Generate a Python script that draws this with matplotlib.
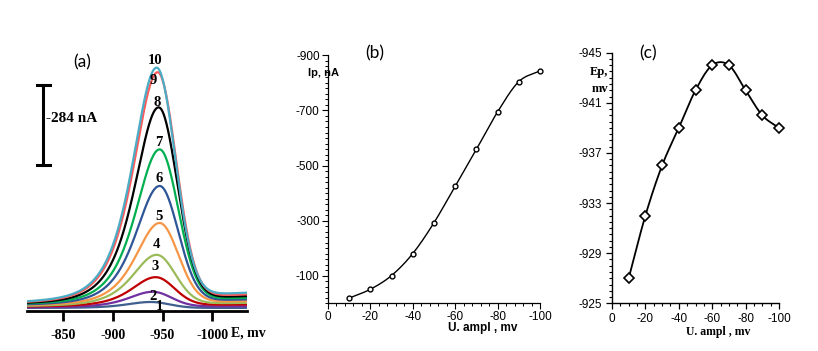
import numpy as np
import matplotlib
matplotlib.use("Agg")
import matplotlib.pyplot as plt
from matplotlib.ticker import MultipleLocator

plt.rcParams["axes.unicode_minus"] = False

# ---- data -------------------------------------------------------------
# (a) voltammograms 1..10 (peak current nA, peak potential mV, baselines nA)
curve_ids = ["1", "2", "3", "4", "5", "6", "7", "8", "9", "10"]
peak_nA = [21, 53, 100, 175, 283, 410, 535, 680, 800, 812]
peak_E = [-938, -940, -943, -944, -947, -947, -947, -946, -945, -944]
base_left = [11, 13, 16, 18, 21, 23, 26, 28, 31, 33]
base_right = [11, 17, 23, 29, 35, 41, 47, 53, 59, 65]
curve_colors = ["#3f5f8f", "#7030a0", "#c00000", "#9bbb59", "#f79646",
                "#2f5597", "#00b050", "#000000", "#ff5b5b", "#4bacc6"]
a_ticks = [-850, -900, -950, -1000]

# (b) and (c) vs pulse amplitude
ampl = [-10, -20, -30, -40, -50, -60, -70, -80, -90, -100]
ip = [-18, -50, -100, -180, -292, -425, -559, -695, -805, -844]
ep = [-927, -932, -936, -939, -942, -944, -944, -942, -940, -939]

W, H = 818, 351
fig = plt.figure(figsize=(W / 100, H / 100), dpi=100)


def box(x0, y0, x1, y1):
    return [x0 / W, 1 - y1 / H, (x1 - x0) / W, (y1 - y0) / H]


def px(x, y):
    return x / W, 1 - y / H


def smooth(x, y, n=30):
    # Catmull-Rom through the points (like Excel's smoothed line)
    x = np.asarray(x, float)
    y = np.asarray(y, float)
    P = np.column_stack([x, y])
    P = np.vstack([2 * P[0] - P[1], P, 2 * P[-1] - P[-2]])
    out = []
    t = np.linspace(0, 1, n)[:, None]
    for i in range(1, len(P) - 2):
        p0, p1, p2, p3 = P[i - 1], P[i], P[i + 1], P[i + 2]
        seg = 0.5 * ((2 * p1) + (-p0 + p2) * t + (2 * p0 - 5 * p1 + 4 * p2 - p3) * t ** 2
                     + (-p0 + 3 * p1 - 3 * p2 + p3) * t ** 3)
        out.append(seg)
    out = np.vstack(out)
    return out[:, 0], out[:, 1]


serif = "Liberation Serif"
sans = "Liberation Sans"
tag_font = "Lato"

# ---- (a) --------------------------------------------------------------
axa = fig.add_axes(box(27, 40, 247, 311))
E = np.linspace(-813.6, -1035, 800)
for h, e0, bl, br, c in zip(peak_nA, peak_E, base_left, base_right, curve_colors):
    base = bl + (br - bl) * (E - E[0]) / (E[-1] - E[0])
    # broad tail on the anodic side, steeper fall on the cathodic side
    f = np.where(E > e0, (1 / np.cosh((E - e0) / 27.0)) ** 1.5,
                 np.exp(-0.5 * ((E - e0) / 18.7) ** 2))
    axa.plot(E, base + h * f, color=c, lw=1.6, solid_capstyle="butt")
axa.set_xlim(-813.6, -1035)
axa.set_ylim(0, 962)
for s in ["top", "right", "left"]:
    axa.spines[s].set_visible(False)
axa.spines["bottom"].set_linewidth(2)
axa.set_yticks([])
axa.set_xticks(a_ticks)
axa.set_xticklabels([str(v) for v in a_ticks], fontfamily=serif, fontweight="bold", fontsize=10)
axa.tick_params(axis="x", length=7, width=2, pad=6)
# scale bar
axa.plot([-829.8, -829.8], [518, 802], color="k", lw=2.2)
axa.plot([-823.7, -836.9], [518, 518], color="k", lw=2.2)
axa.plot([-823.7, -836.9], [802, 802], color="k", lw=2.2)
fig.text(*px(46, 118), "-284 nA", fontfamily=serif, fontweight="bold", fontsize=11,
         va="center", ha="left")
fig.text(*px(231, 333), "E, mv", fontfamily=serif, fontweight="bold", fontsize=10,
         va="center", ha="left")
lab_pos = [(159, 307), (153, 297), (155, 267), (156, 245), (159, 217),
           (159, 179), (159, 143), (157, 102), (153, 80), (155, 60)]
for t, (x, y) in zip(curve_ids, lab_pos):
    fig.text(*px(x, y), t, fontfamily=serif, fontweight="bold", fontsize=10.5,
             ha="center", va="center")
fig.text(*px(82, 62), "(a)", fontfamily=tag_font, fontsize=12.5, ha="center", va="center")

# ---- (b) --------------------------------------------------------------
axb = fig.add_axes(box(328, 55.5, 540, 303))
sx, sy = smooth(ampl, ip)
axb.plot(sx, sy, color="k", lw=1.0)
axb.plot(ampl, ip, ls="none", marker="o", ms=3.5, mfc="white", mec="k", mew=1.0,
         clip_on=False)
axb.set_xlim(0, -100)
axb.set_ylim(0, -900)
axb.set_xticks([0, -20, -40, -60, -80, -100])
axb.set_yticks([-100, -300, -500, -700, -900])
axb.xaxis.set_minor_locator(MultipleLocator(4))
axb.yaxis.set_minor_locator(MultipleLocator(20))
for s in ["top", "right"]:
    axb.spines[s].set_visible(False)
for s in ["left", "bottom"]:
    axb.spines[s].set_linewidth(0.9)
axb.tick_params(which="major", length=4, width=0.8, labelsize=8.5, pad=2)
axb.tick_params(axis="x", which="major", pad=1.5)
axb.tick_params(which="minor", length=2.2, width=0.7)
for lb in axb.get_xticklabels() + axb.get_yticklabels():
    lb.set_fontfamily(sans)
fig.text(*px(324, 73), "Ip, nA", fontfamily=sans, fontweight="bold", fontsize=8,
         ha="center", va="center")
fig.text(*px(483, 328), "U. ampl , mv", fontfamily=sans, fontweight="bold", fontsize=8.5,
         ha="center", va="center")
fig.text(*px(375, 53), "(b)", fontfamily=tag_font, fontsize=12.5, ha="center", va="center")

# ---- (c) --------------------------------------------------------------
axc = fig.add_axes(box(612, 52.7, 779, 303.3))
sx, sy = smooth(ampl, ep)
axc.plot(sx, sy, color="k", lw=1.3)
axc.plot(ampl, ep, ls="none", marker="D", ms=5.5, mfc="white", mec="k", mew=1.2,
         clip_on=False)
axc.set_xlim(0, -100)
axc.set_ylim(-925, -945)
axc.set_xticks([0, -20, -40, -60, -80, -100])
axc.set_yticks([-945, -941, -937, -933, -929, -925])
axc.xaxis.set_minor_locator(MultipleLocator(5))
axc.yaxis.set_minor_locator(MultipleLocator(0.5))
for s in ["top", "right"]:
    axc.spines[s].set_visible(False)
for s in ["left", "bottom"]:
    axc.spines[s].set_linewidth(1.0)
axc.tick_params(which="major", length=4, width=0.9, labelsize=8.5, pad=3)
axc.tick_params(which="minor", length=2.2, width=0.8)
for lb in axc.get_xticklabels() + axc.get_yticklabels():
    lb.set_fontfamily(sans)
fig.text(*px(599, 72), "Ep,", fontfamily=serif, fontweight="bold", fontsize=9,
         ha="center", va="center")
fig.text(*px(600, 89), "mv", fontfamily=serif, fontweight="bold", fontsize=9,
         ha="center", va="center")
fig.text(*px(718, 332), "U. ampl , mv", fontfamily=serif, fontweight="bold", fontsize=8.5,
         ha="center", va="center")
fig.text(*px(648, 53), "(c)", fontfamily=tag_font, fontsize=12.5, ha="center", va="center")

fig.savefig("out.png", dpi=100)
